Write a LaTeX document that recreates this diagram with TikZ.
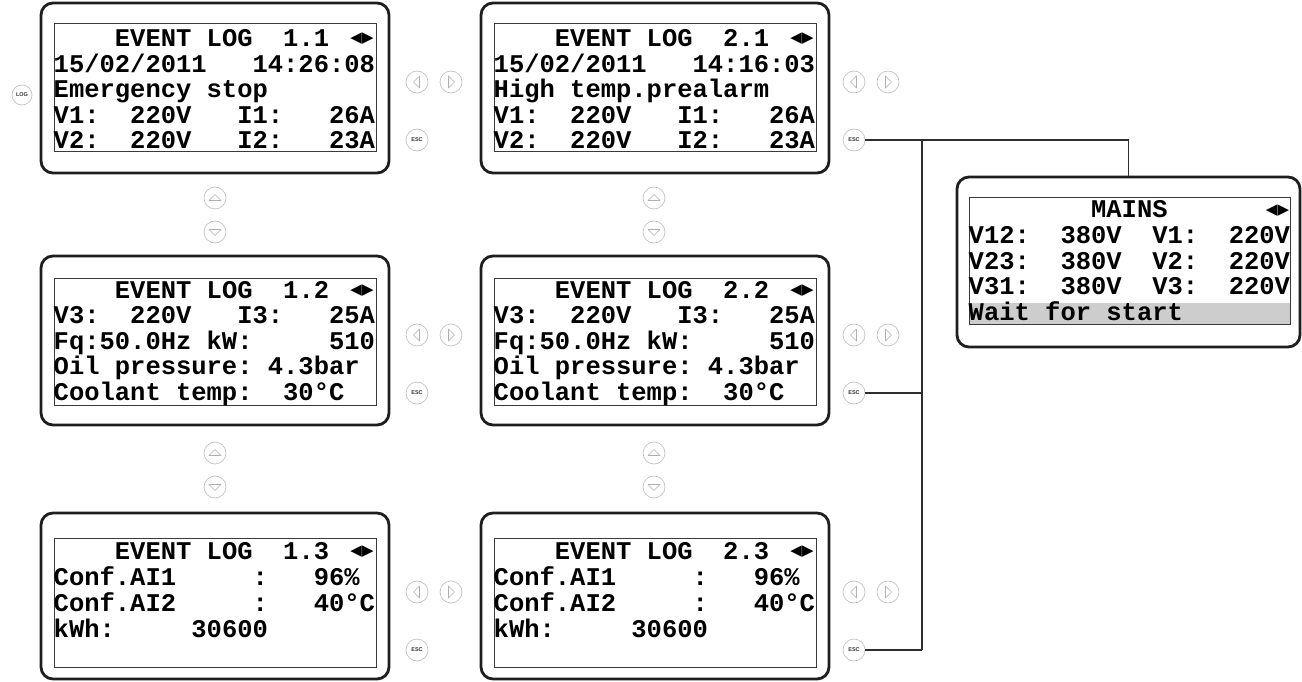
\documentclass[tikz,border=0pt]{standalone}
\usepackage{fontspec}
\setmainfont{Liberation Sans}
\newfontfamily\lcdfont{Liberation Mono}
\newfontfamily\symfont{DejaVu Sans}
\definecolor{btngray}{HTML}{C4C4C4}
\definecolor{symgray}{HTML}{B0B0B0}
\definecolor{framecol}{HTML}{1E1E1E}
\definecolor{innercol}{HTML}{3A3A3A}
\definecolor{barcol}{HTML}{CDCDCD}
\definecolor{wirecol}{HTML}{2E2E2E}
\tikzset{
 outerbox/.style={draw=framecol, line width=2.8pt, rounded corners=12pt, inner sep=0pt, fill=white},
 innerbox/.style={draw=innercol, line width=1pt, inner sep=0pt},
 lcd/.style={font=\lcdfont\bfseries\fontsize{25.5}{25.6}\selectfont, inner sep=0pt, anchor=base west, text=black},
 lr/.style={font=\symfont\fontsize{15}{15}\selectfont, inner sep=0pt},
 btn/.style={circle, draw=btngray, line width=0.7pt, minimum size=22pt, inner sep=0pt, fill=white},
 btntxt/.style={font=\bfseries\fontsize{5.5}{6}\selectfont, text=black!80},
 sym/.style={draw=symgray, line width=0.6pt, line join=round},
 wire/.style={draw=wirecol, line width=1.3pt},
 larr/.pic={\draw[sym] (2.5pt,6pt) -- (-3.5pt,0pt) -- (2.5pt,-6pt) -- cycle;},
 rarr/.pic={\draw[sym] (-2.5pt,6pt) -- (3.5pt,0pt) -- (-2.5pt,-6pt) -- cycle;},
 uarr/.pic={\draw[sym] (-6pt,-2.5pt) -- (0pt,3.5pt) -- (6pt,-2.5pt) -- cycle;},
 darr/.pic={\draw[sym] (-6pt,2.5pt) -- (0pt,-3.5pt) -- (6pt,2.5pt) -- cycle;},
}
\newcommand\lcdline[4]{\node[lcd] (#1) at (#2,#3) {#4};}
% #1 prefix, #2 x of left button, #3 row top
\newcommand\navbtns[3]{%
 \node[btn] (#1l) at (#2,#3+79) {}; \pic at (#1l.center) {larr};
 \node[btn] (#1r) at (#2+34,#3+79) {}; \pic at (#1r.center) {rarr};
 \node[btn, btntxt] (#1e) at (#2,#3+137) {ESC};}
% #1 prefix, #2 x, #3 y of up button
\newcommand\updown[3]{%
 \node[btn] (#1u) at (#2,#3) {}; \pic at (#1u.center) {uarr};
 \node[btn] (#1d) at (#2,#3+34) {}; \pic at (#1d.center) {darr};}
\begin{document}
\begin{tikzpicture}[x=1pt,y=-1pt]
\useasboundingbox (0,0) rectangle (1302,682);
% ---------- column 1 ----------
\node[outerbox, minimum width=348pt, minimum height=170pt] (s11) at (215,88) {};
\node[innerbox, minimum width=322pt, minimum height=128pt] (s11i) at (215,88) {};
\lcdline{s11a}{53.5}{46.5}{~~~~EVENT~LOG~~1.1}
\lcdline{s11b}{53.5}{72.1}{15/02/2011~~~14:26:08}
\lcdline{s11c}{53.5}{97.7}{Emergency~stop}
\lcdline{s11d}{53.5}{123.3}{V1:~~220V~~~I1:~~~26A}
\lcdline{s11e}{53.5}{148.9}{V2:~~220V~~~I2:~~~23A}
\node[lr] (s11n) at (362,39) {◀▶};

\node[outerbox, minimum width=348pt, minimum height=169pt] (s12) at (215,340.5) {};
\node[innerbox, minimum width=322pt, minimum height=127pt] (s12i) at (215,341.5) {};
\lcdline{s12a}{53.5}{298}{~~~~EVENT~LOG~~1.2}
\lcdline{s12b}{53.5}{323.6}{V3:~~220V~~~I3:~~~25A}
\lcdline{s12c}{53.5}{349.2}{Fq:50.0Hz~kW:~~~~~510}
\lcdline{s12d}{53.5}{374.8}{Oil~pressure:~4.3bar}
\lcdline{s12e}{53.5}{400.4}{Coolant~temp:~~30°C}
\node[lr] (s12n) at (362,290.5) {◀▶};

\node[outerbox, minimum width=348pt, minimum height=166pt] (s13) at (215,596) {};
\node[innerbox, minimum width=322pt, minimum height=129pt] (s13i) at (215,602.5) {};
\lcdline{s13a}{53.5}{559}{~~~~EVENT~LOG~~1.3}
\lcdline{s13b}{53.5}{585}{Conf.AI1~~~~~:~~~96\%}
\lcdline{s13c}{53.5}{611}{Conf.AI2~~~~~:~~~40°C}
\lcdline{s13d}{53.5}{637}{kWh:~~~~~30600}
\node[lr] (s13n) at (362,551.5) {◀▶};
% ---------- column 2 ----------
\node[outerbox, minimum width=348pt, minimum height=170pt] (s21) at (655,88) {};
\node[innerbox, minimum width=322pt, minimum height=128pt] (s21i) at (655,88) {};
\lcdline{s21a}{493.5}{46.5}{~~~~EVENT~LOG~~2.1}
\lcdline{s21b}{493.5}{72.1}{15/02/2011~~~14:16:03}
\lcdline{s21c}{493.5}{97.7}{High~temp.prealarm}
\lcdline{s21d}{493.5}{123.3}{V1:~~220V~~~I1:~~~26A}
\lcdline{s21e}{493.5}{148.9}{V2:~~220V~~~I2:~~~23A}
\node[lr] (s21n) at (802,39) {◀▶};

\node[outerbox, minimum width=348pt, minimum height=169pt] (s22) at (655,340.5) {};
\node[innerbox, minimum width=322pt, minimum height=127pt] (s22i) at (655,341.5) {};
\lcdline{s22a}{493.5}{298}{~~~~EVENT~LOG~~2.2}
\lcdline{s22b}{493.5}{323.6}{V3:~~220V~~~I3:~~~25A}
\lcdline{s22c}{493.5}{349.2}{Fq:50.0Hz~kW:~~~~~510}
\lcdline{s22d}{493.5}{374.8}{Oil~pressure:~4.3bar}
\lcdline{s22e}{493.5}{400.4}{Coolant~temp:~~30°C}
\node[lr] (s22n) at (802,290.5) {◀▶};

\node[outerbox, minimum width=348pt, minimum height=166pt] (s23) at (655,596) {};
\node[innerbox, minimum width=322pt, minimum height=129pt] (s23i) at (655,602.5) {};
\lcdline{s23a}{493.5}{559}{~~~~EVENT~LOG~~2.3}
\lcdline{s23b}{493.5}{585}{Conf.AI1~~~~~:~~~96\%}
\lcdline{s23c}{493.5}{611}{Conf.AI2~~~~~:~~~40°C}
\lcdline{s23d}{493.5}{637}{kWh:~~~~~30600}
\node[lr] (s23n) at (802,551.5) {◀▶};
% ---------- mains ----------
\node[outerbox, minimum width=343pt, minimum height=170pt] (mains) at (1128.5,262) {};
\fill[barcol] (969,303) rectangle (1290,324);
\node[innerbox, minimum width=321pt, minimum height=126pt] (mainsi) at (1129.5,261) {};
\lcdline{ma}{968.5}{218}{~~~~~~~~MAINS}
\lcdline{mb}{968.5}{243.6}{V12:~~380V~~V1:~~220V}
\lcdline{mc}{968.5}{269.2}{V23:~~380V~~V2:~~220V}
\lcdline{md}{968.5}{294.8}{V31:~~380V~~V3:~~220V}
\lcdline{me}{968.5}{320.4}{Wait~for~start}
\node[lr] (mn) at (1277.5,210.5) {◀▶};
% ---------- buttons ----------
\node[btn, btntxt, minimum size=20pt] (log) at (22,95) {LOG};
\navbtns{c1a}{417}{3}
\navbtns{c1b}{417}{256}
\navbtns{c1c}{417}{513}
\navbtns{c2a}{854}{3}
\navbtns{c2b}{854}{256}
\navbtns{c2c}{854}{513}
\updown{u1a}{215}{198}
\updown{u1b}{215}{453}
\updown{u2a}{654}{198}
\updown{u2b}{654}{453}
% ---------- wires ----------
\coordinate (busx) at (922,0);
\draw[wire] (c2ae.east) -| (mains.north);
\draw[wire] (c2ae.east -| busx) -- (c2ce.east -| busx);
\draw[wire] (c2be.east) -- (c2be.east -| busx);
\draw[wire] (c2ce.east) -- (c2ce.east -| busx);
\end{tikzpicture}
\end{document}
